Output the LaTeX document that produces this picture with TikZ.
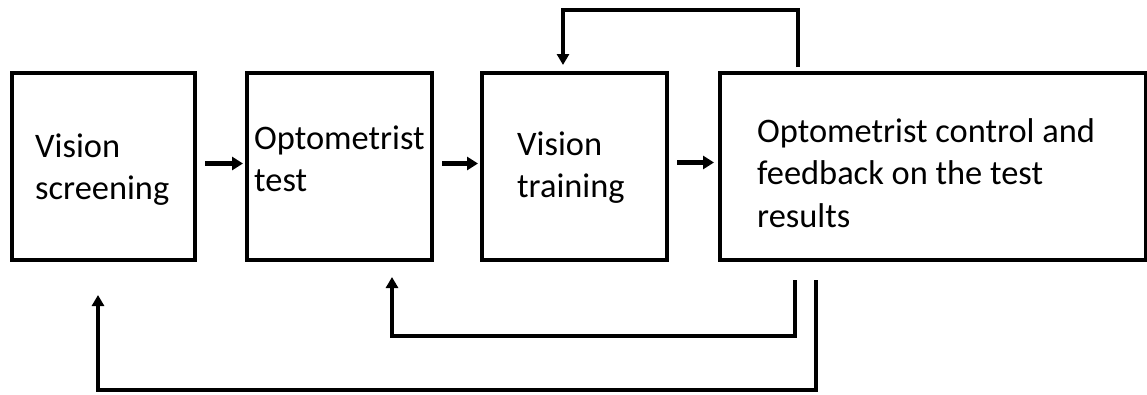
\documentclass[tikz,border=0pt]{standalone}
\usepackage{fontspec}
\setmainfont{Carlito}
\usetikzlibrary{arrows.meta}
\begin{document}
\begin{tikzpicture}[x=1pt,y=-1pt,
  box/.style={draw=black,line width=4pt,inner sep=0pt,outer sep=0pt,minimum height=187pt,fill=white},
  txt/.style={anchor=base west,inner sep=0pt,font=\fontsize{34.4}{42.8}\selectfont},
  flow/.style={line width=5pt,-{Triangle[length=11pt,width=13pt]}},
  fb/.style={line width=3.6pt,-{Triangle[length=11pt,width=12pt]}}]
\useasboundingbox[fill=white] (0,0) rectangle (1147,394);
\node[box,minimum width=183pt] (b1) at (103.5,166.5) {};
\node[box,minimum width=185pt] (b2) at (339.5,166.5) {};
\node[box,minimum width=185pt] (b3) at (574.5,166.5) {};
\node[box,minimum width=426pt] (b4) at (933,166.5) {};
\node[txt] (t1) at (35,157) {\vtop{\hbox{Vision}\hbox{screening}}};
\node[txt] (t2) at (254,149) {\vtop{\hbox{Optometrist}\hbox{test}}};
\node[txt] (t3) at (517,155) {\vtop{\hbox{Vision}\hbox{training}}};
\node[txt] (t4) at (757,142) {\vtop{\hbox{Optometrist control and}\hbox{feedback on the test}\hbox{results}}};
\draw[flow] ([xshift=10pt,yshift=3pt]b1.east) -- ([xshift=-4pt,yshift=3pt]b2.west);
\draw[flow] ([xshift=10pt,yshift=3pt]b2.east) -- ([xshift=-4pt,yshift=3pt]b3.west);
\draw[flow] ([xshift=10pt,yshift=4pt]b3.east) -- ([xshift=-6pt,yshift=4pt]b4.west);
\coordinate (s1) at ([xshift=78pt,yshift=6pt]b4.north west);
\coordinate (s2) at ([xshift=75pt,yshift=-20pt]b4.south west);
\coordinate (s3) at ([xshift=96pt,yshift=-20pt]b4.south west);
\draw[fb] (s1) -- ++(0,-57) -| ([xshift=81pt,yshift=8pt]b3.north west);
\draw[fb] (s2) -- ++(0,56) -| ([xshift=145pt,yshift=-17pt]b2.south west);
\draw[fb] (s3) -- ++(0,110) -| ([xshift=86pt,yshift=-35pt]b1.south west);
\end{tikzpicture}
\end{document}
